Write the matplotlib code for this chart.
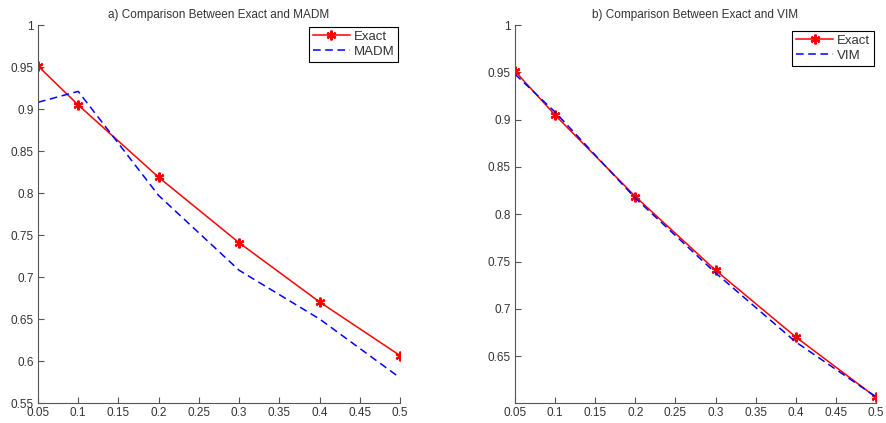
import matplotlib
matplotlib.use("Agg")
import matplotlib.pyplot as plt

x = [0.05, 0.1, 0.2, 0.3, 0.4, 0.5]
exact = [0.9512, 0.9048, 0.8187, 0.7408, 0.6703, 0.6065]
madm = [0.908, 0.921, 0.797, 0.708, 0.650, 0.580]
vim = [0.948, 0.908, 0.817, 0.738, 0.665, 0.607]

xticks = [0.05, 0.1, 0.15, 0.2, 0.25, 0.3, 0.35, 0.4, 0.45, 0.5]
xticklabels = ["0.05", "0.1", "0.15", "0.2", "0.25", "0.3", "0.35", "0.4", "0.45", "0.5"]
yticks_a = [0.55, 0.6, 0.65, 0.7, 0.75, 0.8, 0.85, 0.9, 0.95, 1.0]
yticklabels_a = ["0.55", "0.6", "0.65", "0.7", "0.75", "0.8", "0.85", "0.9", "0.95", "1"]
yticks_b = [0.65, 0.7, 0.75, 0.8, 0.85, 0.9, 0.95, 1.0]
yticklabels_b = ["0.65", "0.7", "0.75", "0.8", "0.85", "0.9", "0.95", "1"]

plt.rcParams['font.family'] = ['Liberation Sans', 'DejaVu Sans']
plt.rcParams['font.size'] = 8.5

fig = plt.figure(figsize=(8.87, 4.23), dpi=100)
W, H = 887, 423
ax1 = fig.add_axes([38 / W, 1 - 403 / H, (400 - 38) / W, (403 - 25) / H])
ax2 = fig.add_axes([515 / W, 1 - 403 / H, (876 - 515) / W, (403 - 25) / H])

ast = (6, 2, 0)

def style(ax, ylim, yt, ytl, title):
    ax.set_xlim(0.05, 0.5)
    ax.set_ylim(*ylim)
    ax.set_xticks(xticks)
    ax.set_xticklabels(xticklabels)
    ax.set_yticks(yt)
    ax.set_yticklabels(ytl)
    for s in ["top", "right"]:
        ax.spines[s].set_visible(False)
    for s in ["left", "bottom"]:
        ax.spines[s].set_color("#555555")
        ax.spines[s].set_linewidth(0.8)
    ax.tick_params(direction="in", length=4, width=0.8, color="#555555",
                   labelcolor="#333333", labelsize=8.5, pad=3)
    ax.set_title(title, fontsize=8.5, color="#333333", pad=5)

def legend(ax, anchor):
    leg = ax.legend(loc="upper right", bbox_to_anchor=anchor, fancybox=False,
                    edgecolor="black", framealpha=1, fontsize=9.5, handlelength=2.8,
                    borderpad=0.3, labelspacing=0.2, handletextpad=0.3, borderaxespad=0.0)
    leg.get_frame().set_linewidth(0.8)
    for t in leg.get_texts():
        t.set_color("#333333")

ax1.plot(x, exact, color="red", marker=ast, markersize=7, markeredgewidth=1.6,
         linewidth=1.1, label="Exact")
ax1.plot(x, madm, color="blue", linestyle=(0, (5, 3)), linewidth=1.1, label="MADM")
style(ax1, (0.55, 1.0), yticks_a, yticklabels_a, "a) Comparison Between Exact and MADM")
legend(ax1, (0.995, 0.995))

ax2.plot(x, exact, color="red", marker=ast, markersize=7, markeredgewidth=1.6,
         linewidth=1.1, label="Exact")
ax2.plot(x, vim, color="blue", linestyle=(0, (5, 3)), linewidth=1.1, label="VIM")
style(ax2, (0.6005, 1.0), yticks_b, yticklabels_b, "b) Comparison Between Exact and VIM")
legend(ax2, (0.995, 0.985))

fig.savefig("out.png", dpi=100)
